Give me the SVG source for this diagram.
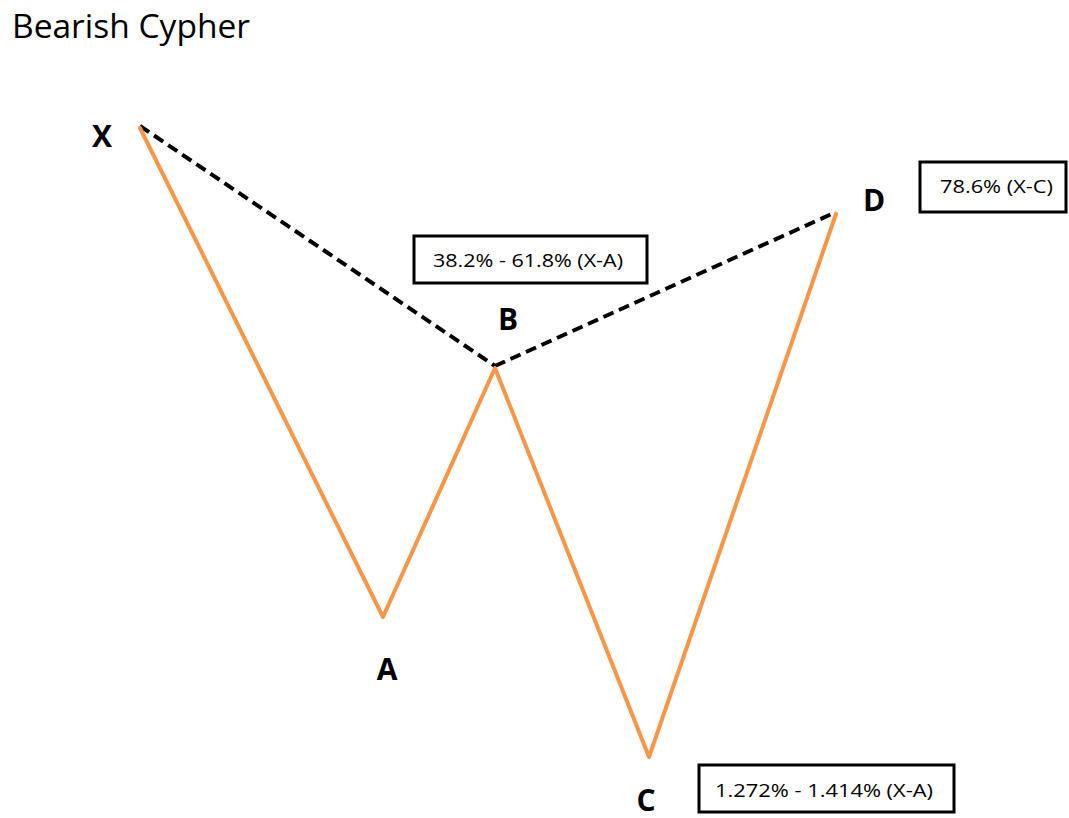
<svg xmlns="http://www.w3.org/2000/svg" width="1069" height="818" viewBox="0 0 1069 818">
<style>
.lbl{font-family:"Open Sans","Liberation Sans",Arial,sans-serif;font-weight:bold;font-size:30px;fill:#000;text-anchor:middle}
.box{fill:#fff;stroke:#000;stroke-width:3}
.bt{font-family:"Open Sans","Liberation Sans",sans-serif;font-size:18.5px;fill:#000}
.leg{fill:none;stroke:#F79646;stroke-width:4;stroke-linejoin:round;stroke-linecap:round}
.dash{fill:none;stroke:#000;stroke-width:4;stroke-dasharray:11 6}
</style>
<rect width="1069" height="818" fill="#fff"/>
<text x="12" y="38" font-family="Open Sans,Liberation Sans,sans-serif" font-size="32" textLength="238" lengthAdjust="spacingAndGlyphs" fill="#000">Bearish Cypher</text>
<g id="connectors">
<line class="dash" x1="140" y1="126" x2="495" y2="366"/>
<line class="dash" x1="495" y1="366" x2="836" y2="212"/>
<polyline class="leg" points="140,128 383,617 495,368 649,757 836,214"/>
</g>
<g id="X"><text class="lbl" x="102" y="147">X</text></g>
<g id="A"><text class="lbl" x="387" y="680">A</text></g>
<g id="B"><text class="lbl" x="508" y="330">B</text></g>
<g id="C"><text class="lbl" x="646" y="811">C</text></g>
<g id="D"><text class="lbl" x="874" y="211">D</text></g>
<g id="boxB"><rect class="box" x="414" y="236" width="233" height="47"/><text class="bt" x="433" y="267" textLength="190" lengthAdjust="spacingAndGlyphs">38.2% - 61.8% (X-A)</text></g>
<g id="boxD"><rect class="box" x="920" y="162" width="146" height="50"/><text class="bt" x="940" y="193" textLength="113" lengthAdjust="spacingAndGlyphs">78.6% (X-C)</text></g>
<g id="boxC"><rect class="box" x="699" y="765" width="255" height="47"/><text class="bt" x="715" y="797" textLength="218" lengthAdjust="spacingAndGlyphs">1.272% - 1.414% (X-A)</text></g>
</svg>
